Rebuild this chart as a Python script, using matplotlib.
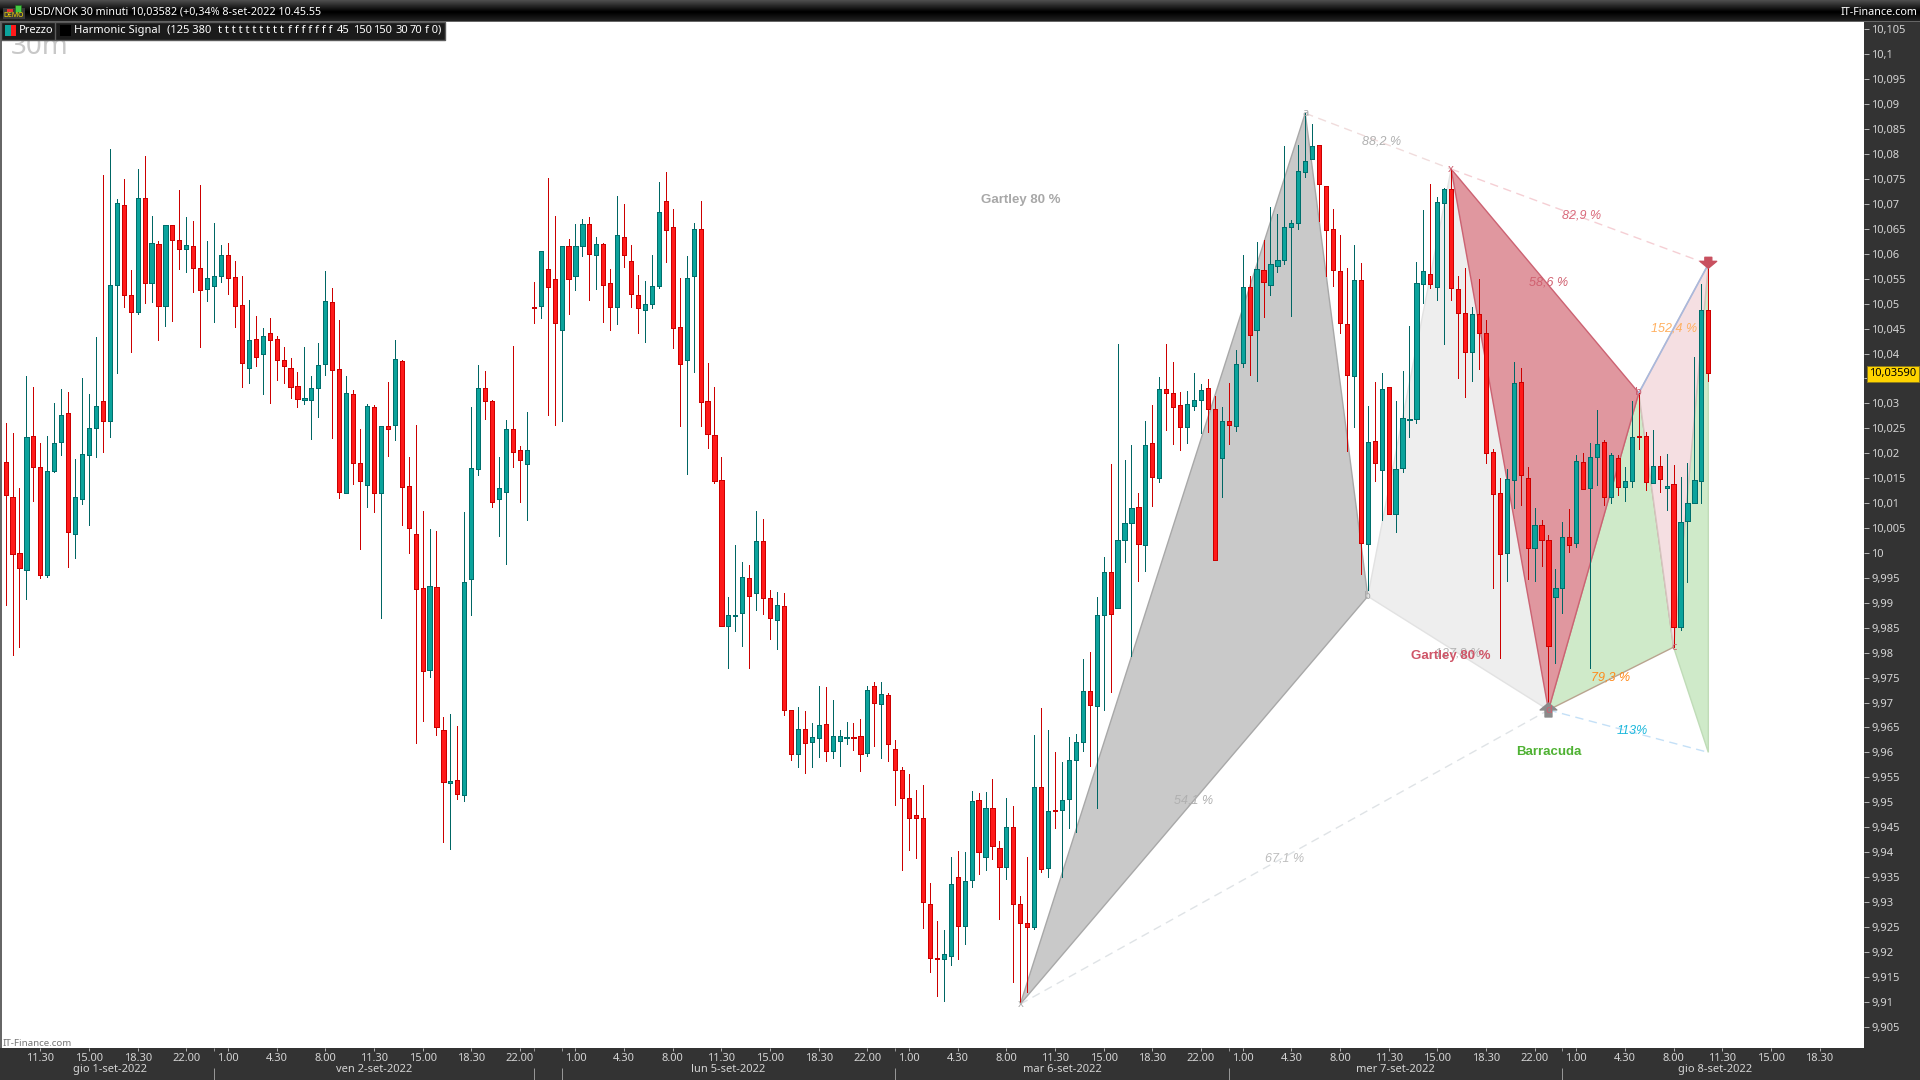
import numpy as np
import matplotlib
matplotlib.use("Agg")
import matplotlib.pyplot as plt
from matplotlib.patches import Rectangle
from matplotlib.transforms import blended_transform_factory

plt.rcParams['font.family'] = ['Noto Sans', 'DejaVu Sans']

# USD/NOK 30 min candles
highs = [10.0260,10.0240,10.0130,10.0355,10.0333,10.0220,10.0234,10.0301,10.0329,10.0323,
 10.0188,10.0351,10.0319,10.0433,10.0758,10.0810,10.0710,10.0750,10.0567,10.0770,
 10.0796,10.0676,10.0626,10.0658,10.0658,10.0728,10.0674,10.0666,10.0738,10.0626,
 10.0662,10.0618,10.0622,10.0585,10.0555,10.0507,10.0475,10.0451,10.0471,10.0435,
 10.0413,10.0391,10.0363,10.0413,10.0355,10.0421,10.0565,10.0531,10.0467,10.0355,
 10.0327,10.0248,10.0299,10.0297,10.0254,10.0343,10.0427,10.0387,10.0192,10.0256,
 10.0084,10.0048,10.0044,9.9671,9.9677,9.9653,10.0082,10.0293,10.0377,10.0365,
 10.0307,10.0192,10.0266,10.0415,10.0214,10.0283,10.0543,10.0605,10.0752,10.0676,
 10.0616,10.0630,10.0660,10.0670,10.0674,10.0634,10.0622,10.0569,10.0716,10.0700,
 10.0618,10.0557,10.0545,10.0597,10.0744,10.0764,10.0690,10.0551,10.0595,10.0662,
 10.0706,10.0381,10.0333,10.0192,9.9911,10.0016,9.9982,9.9976,10.0084,10.0068,
 9.9925,9.9921,9.9919,9.9685,9.9691,9.9683,9.9659,9.9733,9.9731,9.9705,
 9.9645,9.9661,9.9659,9.9667,9.9733,9.9741,9.9741,9.9719,9.9625,9.9570,
 9.9556,9.9524,9.9534,9.9338,9.9261,9.9243,9.9390,9.9402,9.9400,9.9522,
 9.9518,9.9520,9.9546,9.9422,9.9508,9.9492,9.9312,9.9390,9.9635,9.9689,
 9.9645,9.9600,9.9580,9.9631,9.9637,9.9787,9.9801,9.9911,9.9992,10.0178,
 10.0419,10.0186,10.0216,10.0120,10.0264,10.0297,10.0353,10.0419,10.0383,10.0323,
 10.0325,10.0361,10.0339,10.0349,10.0315,10.0293,10.0341,10.0407,10.0597,10.0555,
 10.0624,10.0628,10.0694,10.0680,10.0816,10.0668,10.0818,10.0882,10.0860,10.0818,
 10.0736,10.0690,10.0638,10.0571,10.0618,10.0581,10.0295,10.0343,10.0361,10.0333,
 10.0305,10.0365,10.0455,10.0583,10.0688,10.0740,10.0714,10.0732,10.0770,10.0555,
 10.0571,10.0493,10.0549,10.0467,10.0208,10.0150,10.0168,10.0383,10.0371,10.0172,
 10.0090,10.0066,10.0036,9.9968,10.0062,10.0088,10.0196,10.0200,10.0220,10.0287,
 10.0226,10.0200,10.0196,10.0172,10.0305,10.0321,10.0242,10.0246,10.0194,10.0198,
 10.0176,10.0152,10.0180,10.0393,10.0539,10.0573]

lows = [9.9895,9.9795,9.9811,9.9907,10.0104,9.9950,9.9952,10.0162,10.0196,9.9972,
 9.9990,10.0098,10.0056,10.0192,10.0202,10.0232,10.0361,10.0493,10.0403,10.0479,
 10.0501,10.0503,10.0427,10.0455,10.0465,10.0569,10.0563,10.0523,10.0413,10.0505,
 10.0463,10.0543,10.0519,10.0453,10.0333,10.0341,10.0375,10.0319,10.0301,10.0347,
 10.0341,10.0311,10.0293,10.0299,10.0228,10.0272,10.0357,10.0230,10.0110,10.0120,
 10.0138,10.0008,10.0092,10.0082,9.9869,10.0194,10.0226,10.0056,10.0000,9.9619,
 9.9663,9.9751,9.9635,9.9420,9.9406,9.9506,9.9502,9.9875,10.0156,10.0268,
 10.0092,10.0034,9.9978,10.0172,10.0102,10.0066,10.0461,10.0471,10.0277,10.0256,
 10.0264,10.0479,10.0527,10.0595,10.0507,10.0529,10.0463,10.0447,10.0459,10.0573,
 10.0493,10.0441,10.0423,10.0491,10.0531,10.0583,10.0411,10.0254,10.0158,10.0363,
 10.0254,10.0210,10.0140,9.9853,9.9769,9.9843,9.9813,9.9769,9.9885,9.9877,
 9.9827,9.9807,9.9675,9.9584,9.9570,9.9558,9.9570,9.9590,9.9582,9.9588,
 9.9572,9.9617,9.9604,9.9562,9.9592,9.9613,9.9588,9.9582,9.9494,9.9364,
 9.9404,9.9388,9.9247,9.9159,9.9111,9.9101,9.9173,9.9185,9.9215,9.9330,
 9.9356,9.9364,9.9386,9.9265,9.9346,9.9139,9.9099,9.9119,9.9245,9.9360,
 9.9350,9.9448,9.9350,9.9448,9.9440,9.9602,9.9572,9.9488,9.9685,9.9721,
 9.9889,9.9982,9.9793,9.9944,9.9964,10.0094,10.0142,10.0246,10.0218,10.0206,
 10.0220,10.0287,10.0240,10.0242,9.9986,10.0112,10.0218,10.0244,10.0373,10.0357,
 10.0345,10.0473,10.0517,10.0563,10.0579,10.0475,10.0650,10.0754,10.0790,10.0666,
 10.0555,10.0535,10.0441,10.0204,10.0252,9.9958,9.9925,10.0144,10.0066,10.0078,
 10.0042,10.0162,10.0232,10.0260,10.0501,10.0531,10.0507,10.0419,10.0507,10.0351,
 10.0313,10.0345,10.0369,10.0180,9.9929,9.9789,9.9944,10.0090,10.0096,9.9948,
 9.9944,9.9974,9.9685,9.9779,9.9879,10.0002,10.0012,10.0128,9.9769,10.0136,
 10.0096,10.0100,10.0116,10.0104,10.0132,10.0208,10.0126,10.0140,10.0122,10.0086,
 9.9811,9.9845,9.9942,10.0100,10.0100,10.0345]

opens = [10.0182,10.0112,10.0000,9.9966,10.0234,10.0172,9.9956,10.0164,10.0222,10.0281,
 10.0038,10.0108,10.0196,10.0250,10.0305,10.0264,10.0537,10.0698,10.0517,10.0483,
 10.0712,10.0541,10.0620,10.0495,10.0658,10.0628,10.0610,10.0616,10.0571,10.0529,
 10.0535,10.0555,10.0597,10.0553,10.0497,10.0371,10.0429,10.0399,10.0441,10.0429,
 10.0387,10.0371,10.0335,10.0307,10.0307,10.0331,10.0379,10.0503,10.0369,10.0120,
 10.0319,10.0180,10.0136,10.0293,10.0120,10.0254,10.0256,10.0385,10.0134,10.0038,
 9.9929,9.9765,9.9931,9.9645,9.9538,9.9544,9.9514,9.9948,10.0168,10.0331,
 10.0305,10.0108,10.0122,10.0248,10.0206,10.0178,10.0493,10.0495,10.0569,10.0549,
 10.0447,10.0616,10.0555,10.0616,10.0660,10.0597,10.0620,10.0541,10.0493,10.0634,
 10.0585,10.0517,10.0487,10.0499,10.0535,10.0706,10.0654,10.0453,10.0387,10.0555,
 10.0650,10.0305,10.0236,10.0146,9.9853,9.9873,9.9879,9.9950,9.9919,10.0024,
 9.9909,9.9865,9.9893,9.9685,9.9596,9.9647,9.9621,9.9629,9.9657,9.9602,
 9.9623,9.9629,9.9631,9.9633,9.9598,9.9733,9.9697,9.9715,9.9607,9.9564,
 9.9508,9.9474,9.9468,9.9296,9.9187,9.9185,9.9191,9.9350,9.9251,9.9344,
 9.9504,9.9390,9.9488,9.9408,9.9370,9.9450,9.9296,9.9257,9.9249,9.9530,
 9.9368,9.9484,9.9484,9.9506,9.9584,9.9621,9.9723,9.9693,9.9875,9.9962,
 9.9889,10.0026,10.0060,10.0092,10.0016,10.0220,10.0150,10.0329,10.0321,10.0297,
 10.0252,10.0295,10.0307,10.0331,10.0289,10.0190,10.0264,10.0254,10.0381,10.0533,
 10.0447,10.0567,10.0537,10.0575,10.0587,10.0654,10.0662,10.0764,10.0790,10.0818,
 10.0736,10.0650,10.0565,10.0459,10.0355,10.0547,10.0018,10.0224,10.0166,10.0333,
 10.0078,10.0170,10.0266,10.0268,10.0539,10.0559,10.0533,10.0702,10.0730,10.0529,
 10.0481,10.0403,10.0479,10.0441,10.0202,10.0120,10.0000,10.0146,10.0343,10.0150,
 10.0010,10.0056,10.0026,9.9911,9.9929,10.0032,10.0020,10.0182,10.0130,10.0192,
 10.0222,10.0112,10.0190,10.0132,10.0144,10.0234,10.0234,10.0140,10.0174,10.0130,
 10.0138,9.9851,10.0064,10.0100,10.0144,10.0487]

closes = [10.0116,9.9998,9.9970,10.0232,10.0172,9.9956,10.0164,10.0220,10.0277,10.0042,
 10.0112,10.0198,10.0250,10.0295,10.0264,10.0537,10.0702,10.0517,10.0483,10.0712,
 10.0541,10.0622,10.0495,10.0658,10.0628,10.0610,10.0618,10.0571,10.0527,10.0551,
 10.0555,10.0597,10.0551,10.0495,10.0381,10.0427,10.0393,10.0435,10.0427,10.0387,
 10.0375,10.0333,10.0309,10.0311,10.0331,10.0377,10.0505,10.0367,10.0122,10.0321,
 10.0180,10.0144,10.0295,10.0120,10.0254,10.0248,10.0389,10.0132,10.0050,9.9927,
 9.9763,9.9933,9.9651,9.9540,9.9542,9.9516,9.9942,10.0170,10.0331,10.0305,
 10.0102,10.0130,10.0248,10.0202,10.0186,10.0206,10.0491,10.0605,10.0533,10.0461,
 10.0616,10.0549,10.0616,10.0660,10.0599,10.0620,10.0537,10.0493,10.0638,10.0597,
 10.0519,10.0491,10.0499,10.0535,10.0684,10.0648,10.0451,10.0379,10.0551,10.0650,
 10.0303,10.0238,10.0144,9.9853,9.9875,9.9875,9.9952,9.9913,10.0024,9.9909,
 9.9869,9.9895,9.9685,9.9596,9.9647,9.9619,9.9631,9.9655,9.9602,9.9633,
 9.9633,9.9631,9.9629,9.9596,9.9725,9.9699,9.9717,9.9617,9.9564,9.9508,
 9.9468,9.9468,9.9300,9.9188,9.9185,9.9195,9.9336,9.9251,9.9342,9.9502,
 9.9400,9.9488,9.9412,9.9370,9.9450,9.9296,9.9257,9.9249,9.9530,9.9366,
 9.9482,9.9482,9.9504,9.9584,9.9621,9.9723,9.9695,9.9875,9.9962,9.9877,
 10.0026,10.0060,10.0090,10.0018,10.0216,10.0152,10.0329,10.0321,10.0293,10.0252,
 10.0299,10.0307,10.0327,10.0289,9.9986,10.0264,10.0256,10.0379,10.0533,10.0437,
 10.0569,10.0543,10.0579,10.0587,10.0654,10.0662,10.0766,10.0786,10.0816,10.0740,
 10.0648,10.0567,10.0461,10.0357,10.0547,10.0020,10.0222,10.0180,10.0329,10.0078,
 10.0168,10.0270,10.0268,10.0541,10.0565,10.0539,10.0704,10.0730,10.0531,10.0481,
 10.0403,10.0479,10.0441,10.0200,10.0118,9.9998,10.0148,10.0341,10.0156,10.0010,
 10.0056,10.0026,9.9813,9.9929,10.0032,10.0016,10.0184,10.0128,10.0192,10.0218,
 10.0112,10.0196,10.0132,10.0144,10.0232,10.0232,10.0142,10.0174,10.0148,10.0134,
 9.9851,10.0062,10.0100,10.0146,10.0487,10.0361]

# harmonic pattern pivots: bar index, price
gray_bars = [146, 187, 196, 208, 222]
gray_prices = [9.9095, 10.0882, 9.9913, 10.0770, 9.9685]
red_bars = [208, 222, 235, 240, 245]
red_prices = [10.0770, 9.9685, 10.0321, 9.9811, 10.0579]
target_bar = 245
target_price = 9.9600

# x axis
time_ticks = [5,12,19,26,32,39,46,53,60,67,74,82,89,96,103,110,117,124,130,137,144,151,158,165,172,
              178,185,192,199,206,213,220,226,233,240,247,254,261]
time_labels = ['11.30','15.00','18.30','22.00','1.00','4.30','8.00','11.30','15.00','18.30','22.00',
               '1.00','4.30','8.00','11.30','15.00','18.30','22.00','1.00','4.30','8.00','11.30','15.00','18.30','22.00',
               '1.00','4.30','8.00','11.30','15.00','18.30','22.00','1.00','4.30','8.00','11.30','15.00','18.30']
day_breaks = [30, 76, 80, 128, 176, 224]
day_spans = [(0, 30), (30, 76), (80, 128), (128, 176), (176, 224), (224, 268)]
day_labels = ['gio 1-set-2022', 'ven 2-set-2022', 'lun 5-set-2022', 'mar 6-set-2022', 'mer 7-set-2022', 'gio 8-set-2022']
price_ticks = np.round(np.arange(9.905, 10.1051, 0.005), 3)
bold_labels = ['9,95', '10', '10,05', '10,1']
last_price = 10.0359

H = 1080
fig = plt.figure(figsize=(19.2, 10.8), dpi=100, facecolor='#333333')
ax = fig.add_axes([2/1920, 1-1048/H, (1864-2)/1920, (1048-21)/H], facecolor='white')
ax.set_xlim(-0.518, 267.4)
ax.set_ylim(9.9007, 10.1067)
for s in ax.spines.values():
    s.set_visible(False)

# pattern fills first, candles go on top
def tri(b, p, idx, color, edge=None):
    ax.fill([b[i] for i in idx], [p[i] for i in idx], facecolor=color, edgecolor=edge or 'none', lw=1, zorder=1)

tri(gray_bars, gray_prices, [0, 1, 2], '#c9c9c9', '#a8a8a8')
tri(gray_bars, gray_prices, [2, 3, 4], '#eeeeee', '#e2e2e2')
tri(red_bars, red_prices, [1, 2, 3], '#cfeac9', '#b9a48f')
ax.fill([red_bars[3], red_bars[4], target_bar], [red_prices[3], red_prices[4], target_price],
        facecolor='#cfeac9', edgecolor='#c0dcb8', lw=1, zorder=1)
tri(red_bars, red_prices, [2, 3, 4], '#f5dfe2', '#d6c4c0')
tri(red_bars, red_prices, [0, 1, 2], '#e0979f', '#cc6272')
ax.plot([red_bars[2], red_bars[4]], [red_prices[2], red_prices[4]], color='#a9b8dc', lw=1.2, zorder=1.2)

ax.plot([gray_bars[1], gray_bars[3]], [gray_prices[1], gray_prices[3]], color='#f0dcdc', lw=1, ls=(0, (6, 4)), zorder=1)
ax.plot([gray_bars[0], gray_bars[4]], [gray_prices[0], gray_prices[4]], color='#dfe3e6', lw=1, ls=(0, (6, 4)), zorder=1)
ax.plot([red_bars[0], red_bars[4]], [red_prices[0], red_prices[4]], color='#f5cfd4', lw=1, ls=(0, (6, 4)), zorder=1)
ax.plot([red_bars[1], target_bar], [red_prices[1], target_price], color='#c4e0f7', lw=1, ls=(0, (6, 4)), zorder=1)

# candles
bars = np.arange(len(closes))
o = np.array(opens)
c = np.array(closes)
up = c >= o
wick_col = np.where(up, '#006664', '#cc0000')
edge_col = np.where(up, '#006f6c', '#cc0000')
fill_col = np.where(up, '#0ba39c', '#ff1a1a')
ax.vlines(bars, lows, highs, colors=wick_col, lw=0.5, zorder=3, antialiased=False)
ax.bar(bars, np.maximum(np.abs(c-o), 0.0002), bottom=np.minimum(o, c), width=0.6,
       color=fill_col, edgecolor=edge_col, lw=0.5, zorder=4, antialiased=False)

# pattern labels
ax.text(146, 10.0708, 'Gartley 80 %', color='#a8a8a8', fontsize=9.5, fontweight='bold', ha='center', va='center', family='Liberation Sans', zorder=5)
ax.text(209, 9.9799, '127,8 %', color='#b4b4b4', fontsize=9, style='italic', ha='center', va='center', family='Liberation Sans', zorder=5)
ax.text(208, 9.9793, 'Gartley 80 %', color='#cf5568', fontsize=9.5, fontweight='bold', ha='center', va='center', family='Liberation Sans', zorder=5)
ax.text(222, 9.9600, 'Barracuda', color='#4fb233', fontsize=9.5, fontweight='bold', ha='center', va='center', family='Liberation Sans', zorder=5)
pct_text = [(198, 10.0826, '88,2 %', '#b0b0b0'), (226.8, 10.0676, '82,9 %', '#d9687a'), (222, 10.0543, '58,6 %', '#d0606f'),
            (240, 10.0451, '152,4 %', '#ffb060'), (231, 9.9751, '79,3 %', '#ff8a1a'), (234, 9.9643, '113%', '#1cb8dc'),
            (171, 9.9504, '54,1 %', '#b0b0b0'), (184, 9.9388, '67,1 %', '#bdbdbd')]
for b, p, t, col in pct_text:
    ax.text(b, p, t, color=col, fontsize=9, style='italic', ha='center', va='center', family='Liberation Sans', zorder=5)

# pivot letters
letters = [(gray_bars[0], gray_prices[0], 'x', '#aaaaaa'), (gray_bars[1], gray_prices[1], 'a', '#aaaaaa'),
           (gray_bars[2], gray_prices[2], 'b', '#aaaaaa'), (red_bars[0], red_prices[0], 'x', '#cc6070'),
           (red_bars[2], red_prices[2], 'b', '#cc6070'), (red_bars[3], red_prices[3], 'c', '#cc6070')]
for b, p, t, col in letters:
    ax.text(b, p, t, color=col, fontsize=8, fontweight='bold', ha='center', va='center', zorder=5)

# signal arrows
ax.annotate('', xy=(red_bars[4], red_prices[4]-0.0008), xytext=(red_bars[4], red_prices[4]+0.0014),
            arrowprops=dict(width=5, headwidth=12, headlength=5, facecolor='#c8505f', edgecolor='#c8505f'), zorder=5)
ax.annotate('', xy=(red_bars[1], red_prices[1]+0.0014), xytext=(red_bars[1], red_prices[1]-0.0014),
            arrowprops=dict(width=5, headwidth=12, headlength=5, facecolor='#8a8a8a', edgecolor='#8a8a8a'), zorder=5)
ax.text(red_bars[1], red_prices[1]-0.0002, 'd', color='#cc6070', fontsize=8, fontweight='bold', ha='center', va='center', zorder=6)

# axes
ax.yaxis.tick_right()
ax.set_yticks(price_ticks)
ylabels = [f'{v:.3f}'.rstrip('0').rstrip('.').replace('.', ',') for v in price_ticks]
ax.set_yticklabels(ylabels)
ax.tick_params(axis='y', colors='#b8b8b8', labelcolor='#d4d4d4', length=3.6, width=0.7, pad=1.5, labelsize=8)
for lab in ax.get_yticklabels():
    if lab.get_text() in bold_labels:
        lab.set_fontweight('bold')
ax.set_xticks(time_ticks)
ax.set_xticklabels(time_labels)
ax.tick_params(axis='x', colors='#b8b8b8', labelcolor='#d4d4d4', length=2.2, width=0.7, pad=1.5, labelsize=8)

tr = blended_transform_factory(ax.transData, ax.transAxes)
ax.vlines(day_breaks, -0.031, -0.0195, colors='#9a9a9a', lw=0.7, transform=tr, clip_on=False)
ax.vlines(day_breaks, -0.003, 0, colors='#9a9a9a', lw=0.7, transform=tr, clip_on=False)
for (a, b), t in zip(day_spans, day_labels):
    ax.text((a+b)/2, -0.0214, t, transform=tr, ha='center', va='center', color='#d4d4d4', fontsize=8)

ax.text(1.0028, last_price, '10,03590', transform=ax.get_yaxis_transform(), ha='left', va='center',
        color='black', fontsize=8, zorder=10, clip_on=False,
        bbox=dict(boxstyle='square,pad=0.22', facecolor='#ffd400', edgecolor='#8a7a20', lw=0.7))

# window chrome, in pixels
ui = fig.add_axes([0, 0, 1, 1], facecolor='none', zorder=20)
ui.set_axis_off()
grad = np.concatenate([np.linspace(0.30, 0.0, 12), np.linspace(0.0, 0.13, 9)]).reshape(-1, 1)
ui.imshow(grad, extent=[0, 1920, 21, 0], cmap='gray', vmin=0, vmax=1, aspect='auto')
ui.set_xlim(0, 1920)
ui.set_ylim(1080, 0)
ui.add_patch(Rectangle((0, 21), 2, 1027, facecolor='#666666', edgecolor='none'))
ui.add_patch(Rectangle((0, 20.5), 1920, 1, facecolor='#666666', edgecolor='none'))

ui.text(11, 54, '30m', color='#c8c8c8', fontsize=20, va='baseline', ha='left', zorder=1)
ui.add_patch(Rectangle((0.5, 21.5), 444, 18, facecolor='#1b1b1b', edgecolor='#5a5a5a', lw=1, zorder=2))
ui.plot([55, 55], [22, 39], color='#5a5a5a', lw=1, zorder=3)
ui.add_patch(Rectangle((5, 25), 5.5, 11, facecolor='#0ba39c', zorder=3))
ui.add_patch(Rectangle((10.5, 25), 5.5, 11, facecolor='#ff1a1a', zorder=3))
ui.text(19, 30.5, 'Prezzo', color='white', fontsize=8, va='center', zorder=3)
ui.add_patch(Rectangle((60, 25), 11, 11, facecolor='black', zorder=3))
legend_parts = [(74, 'Harmonic Signal'), (167, '(125 380'), (218, 't t t t t t t t t t'), (288, 'f f f f f f f'),
                (337, '45'), (353, '150'), (373, '150'), (395, '30'), (410, '70'), (425, 'f 0)')]
for px, t in legend_parts:
    ui.text(px, 30.5, t, color='white', fontsize=8, va='center', zorder=3)
ui.text(29, 12.5, 'USD/NOK 30 minuti 10,03582 (+0,34% 8-set-2022 10.45.55', color='white', fontsize=7.75, fontweight='bold', va='center', zorder=3)
ui.text(1917, 12.5, 'IT-Finance.com', color='white', fontsize=7.75, fontweight='bold', va='center', ha='right', zorder=3)

# demo icon
ui.add_patch(Rectangle((3, 8), 22, 11, facecolor='#3a3a3a', zorder=3))
ui.add_patch(Rectangle((15, 5), 6, 7, facecolor='#44cc44', edgecolor='#226622', lw=0.5, zorder=4))
ui.add_patch(Rectangle((7, 9), 6, 3, facecolor='#dd3333', zorder=4))
ui.text(14, 15.5, 'DEMO', color='#ffe000', fontsize=5, fontweight='bold', ha='center', va='center', zorder=4)

ui.text(3, 1043, 'IT-Finance.com', color='#777777', fontsize=7, va='center', zorder=3)

fig.savefig('out.png', dpi=100, facecolor=fig.get_facecolor())
